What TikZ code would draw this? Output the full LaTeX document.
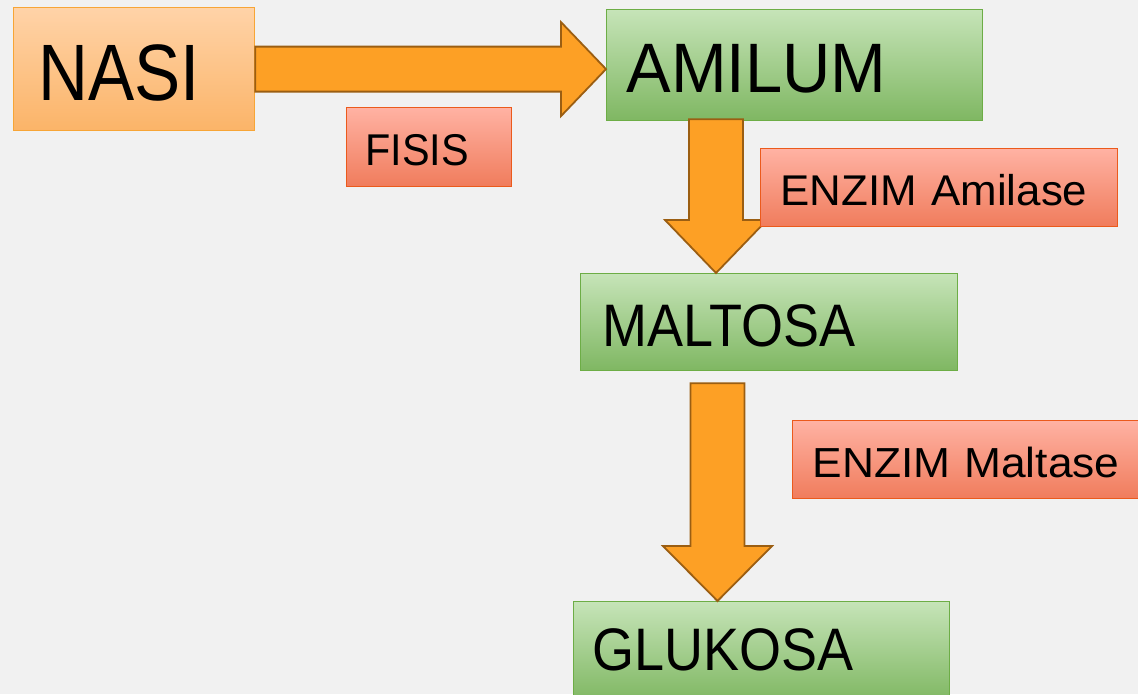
\documentclass[tikz,border=0pt]{standalone}
\usepackage{fontspec}
\setmainfont{Liberation Sans}
\newfontfamily\fnarrow[FakeStretch=0.865]{Liberation Sans}
\newfontfamily\fnarrowb[FakeStretch=0.90]{Liberation Sans}
\newfontfamily\fmid[FakeStretch=0.93]{Liberation Sans}
\newfontfamily\fmidb[FakeStretch=0.955]{Liberation Sans}
\newfontfamily\fwide[FakeStretch=1.02]{Liberation Sans}
\newfontfamily\fwideb[FakeStretch=1.055]{Liberation Sans}
\usetikzlibrary{calc}
\definecolor{bg}{HTML}{F1F1F1}
\definecolor{greenTop}{HTML}{C6E4B8}
\definecolor{greenBot}{HTML}{7FB762}
\definecolor{greenLine}{HTML}{6DAD46}
\definecolor{orTop}{HTML}{FFD3A8}
\definecolor{orBot}{HTML}{FBB468}
\definecolor{orLine}{HTML}{F7A536}
\definecolor{redTop}{HTML}{FFB2A3}
\definecolor{redBot}{HTML}{F07C5C}
\definecolor{redLine}{HTML}{EB5A1C}
\definecolor{arrFill}{HTML}{FDA025}
\definecolor{arrLine}{HTML}{9B5E12}
\tikzset{
  basebox/.style={rectangle, anchor=north west, inner ysep=0pt, align=left,
    text depth=0pt, line width=1.2pt, text=black},
  greenbox/.style={basebox, draw=greenLine, top color=greenTop, bottom color=greenBot},
  orangebox/.style={basebox, draw=orLine, top color=orTop, bottom color=orBot},
  redbox/.style={basebox, draw=redLine, top color=redTop, bottom color=redBot},
  blockarrow/.style={draw=arrLine, fill=arrFill, line width=1.8pt, line join=miter},
}
\begin{document}
\begin{tikzpicture}[x=1pt,y=-1pt]
\useasboundingbox (0,0) rectangle (1138,694);
\fill[bg] (0,0) rectangle (1138,694);

% boxes: width w, pad p -> text width = w - 2p
\node[orangebox, minimum width=241pt, minimum height=123pt, inner xsep=25pt,
  text width=191pt, text height=62pt, font=\fnarrow\fontsize{80}{80}\selectfont]
  (nasi) at (13,7) {NASI};
\node[greenbox, minimum width=376pt, minimum height=111pt, inner xsep=20pt,
  text width=336pt, text height=55pt, font=\fmidb\fontsize{70}{70}\selectfont]
  (amilum) at (606,9) {AMILUM};
\node[greenbox, minimum width=377pt, minimum height=97pt, inner xsep=22pt,
  text width=333pt, text height=48pt, font=\fnarrowb\fontsize{60}{60}\selectfont]
  (maltosa) at (580,273) {MALTOSA};
\node[greenbox, minimum width=376pt, minimum height=100pt, inner xsep=19pt,
  text width=338pt, text height=43pt, text depth=5pt, font=\fnarrowb\fontsize{60}{60}\selectfont]
  (glukosa) at (573,601) {GLUKOSA};

% arrows
\draw[blockarrow] let \p1=(nasi.east), \p2=(amilum.west) in
  (\x1,\y1+22.5pt) -- (\x2-45pt,\y1+22.5pt) -- (\x2-45pt,\y1+47pt) -- (\x2,\y1)
  -- (\x2-45pt,\y1-47pt) -- (\x2-45pt,\y1-22.5pt) -- (\x1,\y1-22.5pt) -- cycle;
\draw[blockarrow] let \p1=(amilum.south), \p2=(maltosa.north), \n1={716pt} in
  (\n1-27pt,\y1+2pt) -- (\n1+27pt,\y1+2pt) -- (\n1+27pt,\y2+53pt) -- (\n1+51pt,\y2+53pt)
  -- (\n1,\y2) -- (\n1-51pt,\y2+53pt) -- (\n1-27pt,\y2+53pt) -- cycle;
\draw[blockarrow] let \p1=(maltosa.south), \p2=(glukosa.north), \n1={717.5pt} in
  (\n1-27pt,\y1-12pt) -- (\n1+27pt,\y1-12pt) -- (\n1+27pt,\y2+55pt) -- (\n1+54.5pt,\y2+55pt)
  -- (\n1,\y2) -- (\n1-54.5pt,\y2+55pt) -- (\n1-27pt,\y2+55pt) -- cycle;

% labels
\node[redbox, minimum width=165pt, minimum height=79pt, inner xsep=19pt,
  text width=127pt, text height=37pt, font=\fmid\fontsize{44.5}{44.5}\selectfont]
  (fisis) at (346,107) {FISIS};
\node[redbox, minimum width=357pt, minimum height=78pt, inner xsep=20pt,
  text width=317pt, text height=36pt, font=\fwide\fontsize{43}{43}\selectfont]
  (amilase) at (760,148) {ENZIM~Amilase};
\node[redbox, minimum width=360pt, minimum height=78pt, inner xsep=20pt,
  text width=320pt, text height=35pt, font=\fwideb\fontsize{42}{42}\selectfont]
  (maltase) at (792,420) {ENZIM~Maltase};
\end{tikzpicture}
\end{document}
